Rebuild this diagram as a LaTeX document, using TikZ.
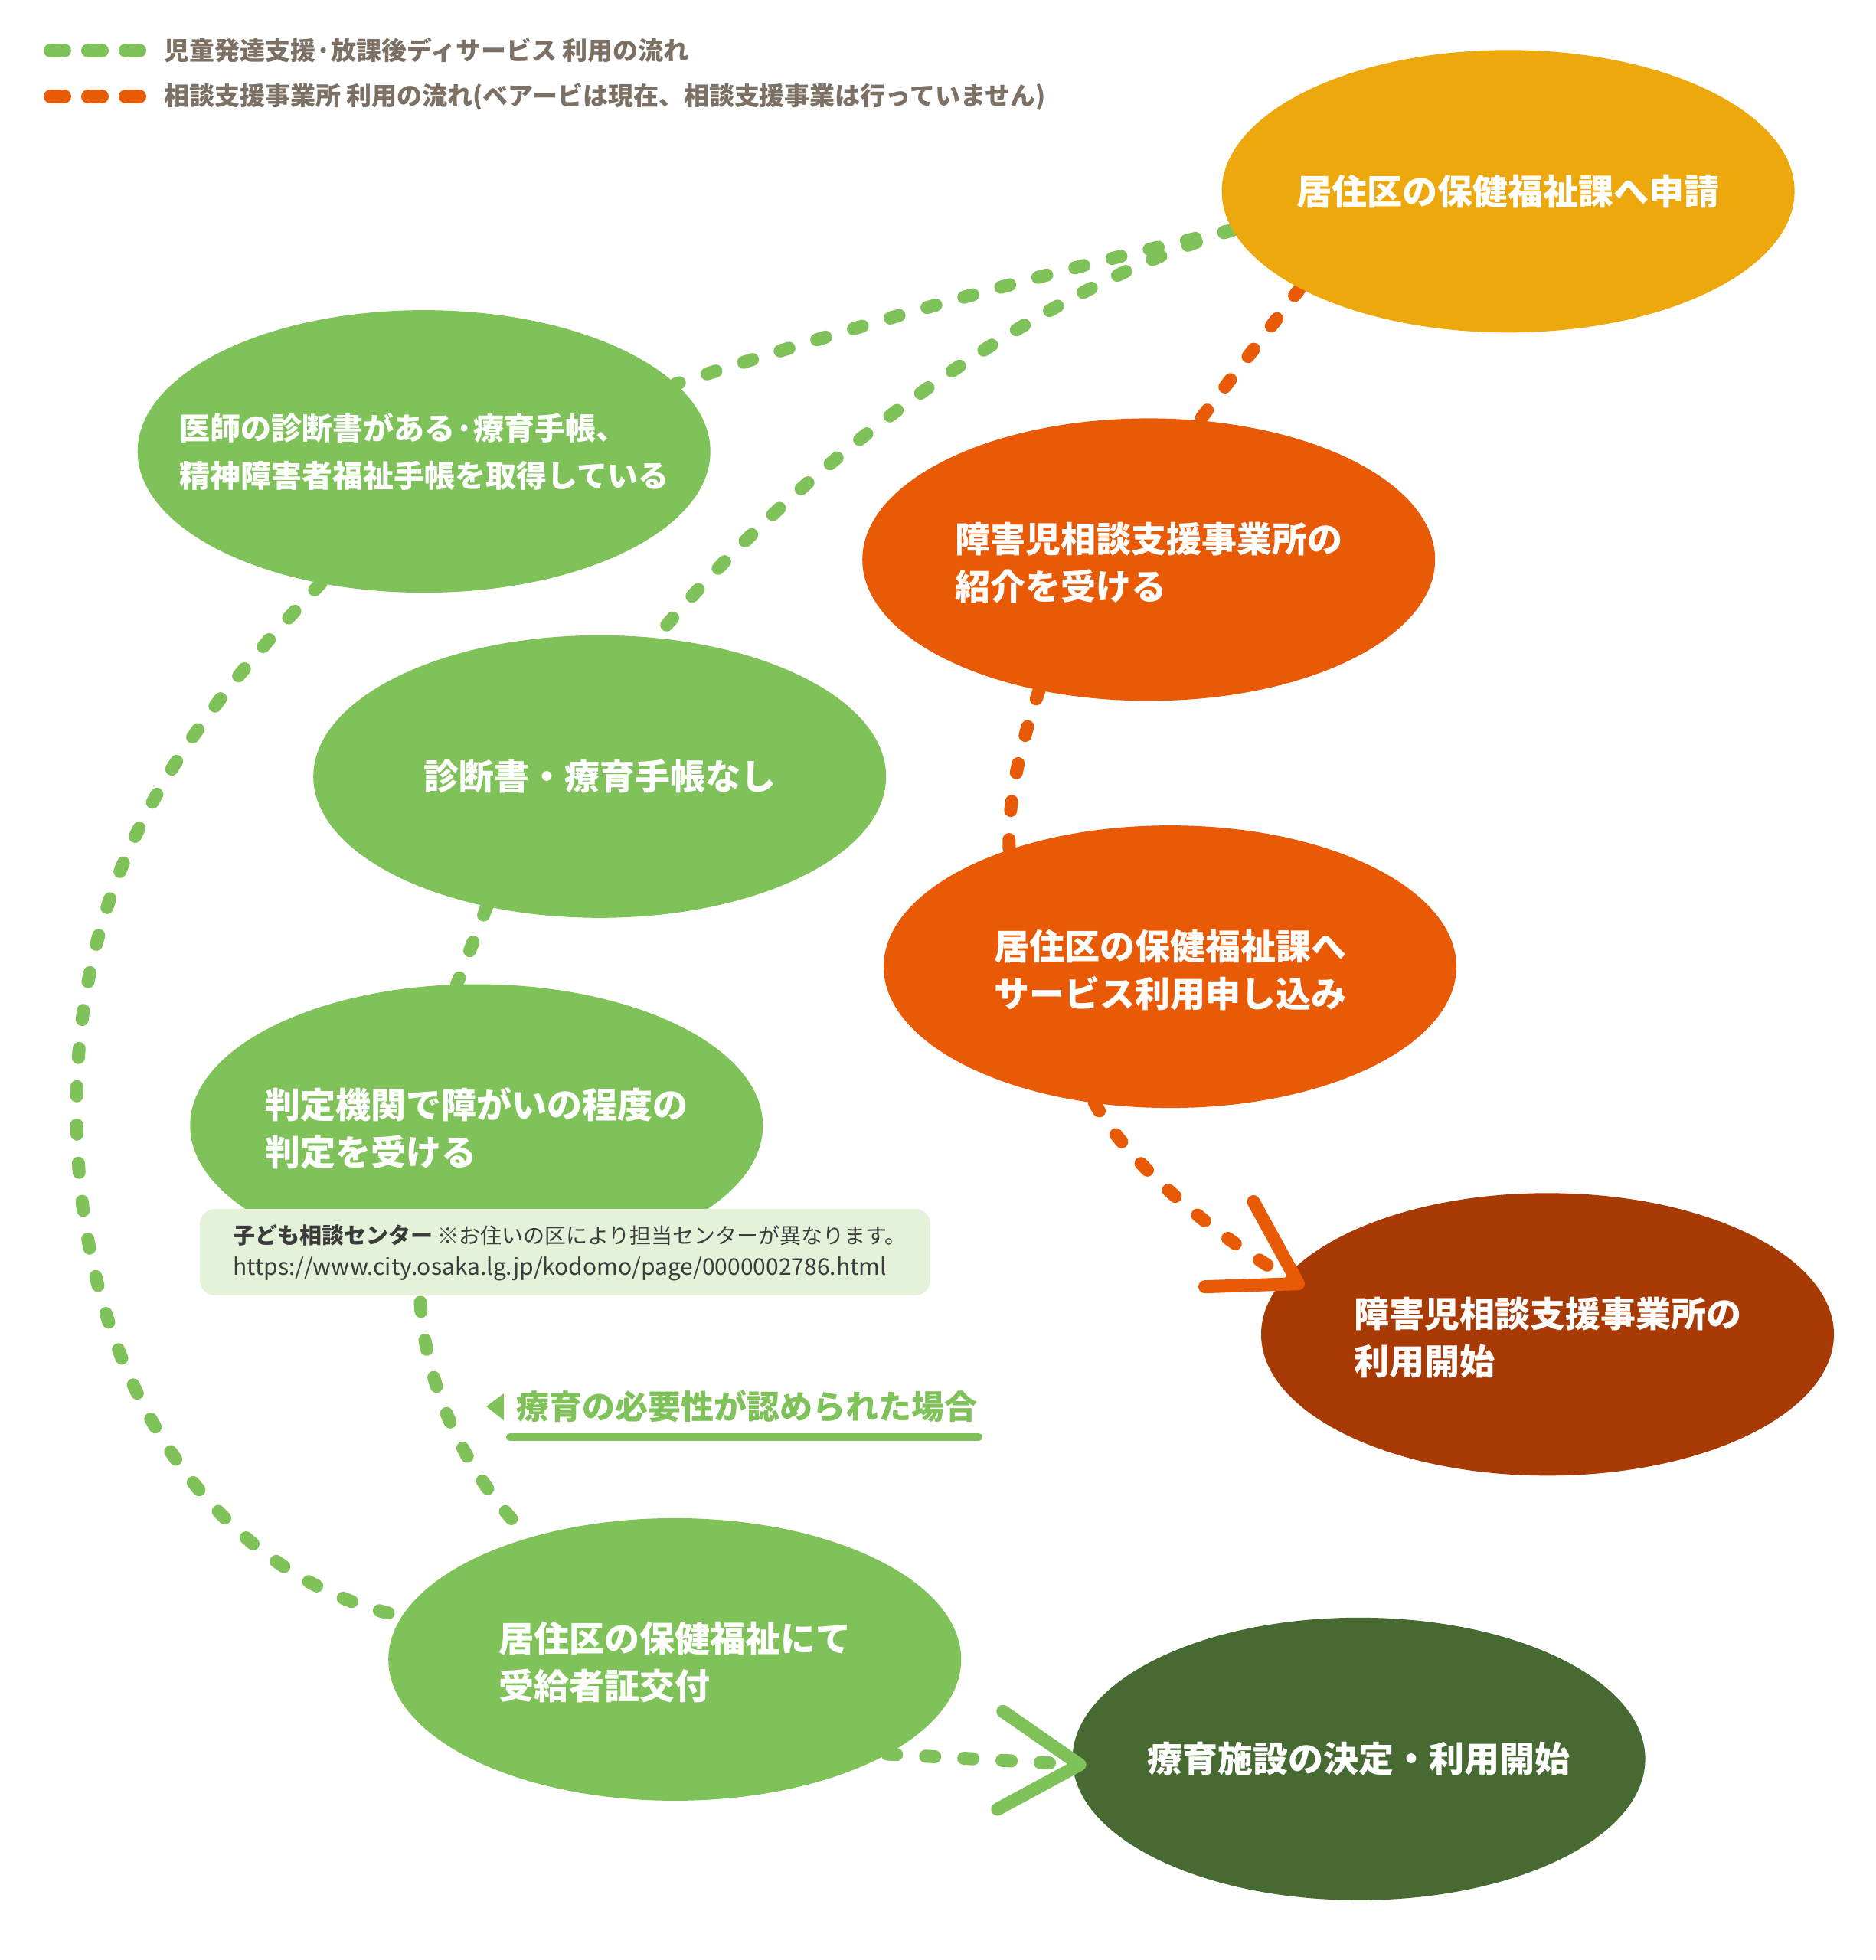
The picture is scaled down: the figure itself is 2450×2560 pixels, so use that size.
\documentclass[tikz,border=0pt]{standalone}
\usepackage{fontspec}
\setmainfont{Noto Sans CJK JP}
\usetikzlibrary{shapes.geometric,arrows.meta,calc}
\pgfdeclarelayer{bg}
\pgfsetlayers{bg,main}
\definecolor{cgold}{RGB}{236,168,12}
\definecolor{cgreen}{RGB}{128,194,90}
\definecolor{corange}{RGB}{232,90,6}
\definecolor{cdorange}{RGB}{168,59,5}
\definecolor{cdgreen}{RGB}{70,106,49}
\definecolor{clegend}{RGB}{125,112,100}
\definecolor{cbox}{RGB}{228,242,218}
\definecolor{cboxtext}{RGB}{60,60,60}
\begin{document}
\begin{tikzpicture}[x=1pt,y=-1pt,
  blob/.style={ellipse, minimum width=748pt, minimum height=369pt, inner sep=0pt, outer sep=0pt},
  ntext/.style={text=white, font=\fontsize{46}{62}\selectfont\bfseries, align=left, inner sep=0pt},
  gline/.style={draw=cgreen, line width=17pt, line cap=round, dash pattern=on 12pt off 38pt},
  oline/.style={draw=corange, line width=17pt, line cap=round, dash pattern=on 12pt off 38pt},
  legdash/.style={line width=18pt, line cap=round, dash pattern=on 18pt off 31pt},
  barb/.style={-{Straight Barb[length=104pt,width=128pt,round]}},
  legtext/.style={anchor=west, text=clegend, font=\fontsize{33}{38}\selectfont\bfseries, inner sep=0pt},
]
\useasboundingbox (0,0) rectangle (2450,2560);

% legend
\coordinate (lg1a) at (66,66);
\coordinate (lg1b) at (182,66);
\coordinate (lg2a) at (66,126);
\coordinate (lg2b) at (182,126);
\draw[legdash, draw=cgreen] (lg1a) -- (lg1b);
\draw[legdash, draw=corange] (lg2a) -- (lg2b);
\node[legtext] (leg1) at (214,66) {児童発達支援·放課後ディサービス 利用の流れ};
\node[legtext] (leg2) at (214,126) {相談支援事業所 利用の流れ(ベアービは現在、相談支援事業は行っていません)};

% ellipses
\node[blob, fill=cgold]    (n1) at (1969.6,249.8) {};
\node[blob, fill=cgreen]   (n2) at (553.7,589.6) {};
\node[blob, fill=corange]  (n3) at (1500.2,730.9) {};
\node[blob, fill=cgreen]   (n4) at (783.2,1014.3) {};
\node[blob, fill=corange]  (n5) at (1528,1262.6) {};
\node[blob, fill=cgreen]   (n6) at (622.3,1470) {};
\node[blob, fill=cdorange] (n7) at (2021,1742.8) {};
\node[blob, fill=cgreen]   (n8) at (881.2,2167.4) {};
\node[blob, fill=cdgreen]  (n9) at (1774.6,2297.3) {};

% texts
\node[ntext] (t1) at (n1) {居住区の保健福祉課へ申請};
\node[ntext, font=\fontsize{40}{62}\selectfont\bfseries] (t2) at (n2) {医師の診断書がある·療育手帳、\\精神障害者福祉手帳を取得している};
\node[ntext] (t3) at ($(n3)+(0,4)$) {障害児相談支援事業所の\\紹介を受ける};
\node[ntext] (t4) at (n4) {診断書・療育手帳なし};
\node[ntext] (t5) at ($(n5)+(0,4)$) {居住区の保健福祉課へ\\サービス利用申し込み};
\node[ntext] (t6) at ($(n6)+(0,4)$) {判定機関で障がいの程度の\\判定を受ける};
\node[ntext] (t7) at ($(n7)+(0,4)$) {障害児相談支援事業所の\\利用開始};
\node[ntext] (t8) at ($(n8)+(0,4)$) {居住区の保健福祉にて\\受給者証交付};
\node[ntext] (t9) at (n9) {療育施設の決定・利用開始};

% connectors behind
\begin{pgfonlayer}{bg}
\fill[white] (0,0) rectangle (2450,2560);
\draw[gline] (n1.188) .. controls (1366,355) and (1124,423) .. (n2.15);
\draw[gline] (n1.188) .. controls (1350,380) and (1050,600) .. (n4.68);
\draw[gline] (n2.232) .. controls (230,960) and (100,1150) .. (100,1450)
                      .. controls (100,1800) and (280,2060) .. (n8.171);
\draw[gline] (n4.229) -- (n6.98);
\draw[gline] (n6.248) .. controls (540,1780) and (600,1920) .. (n8.140);
\draw[oline] (n1.205) -- (n3.70);
\draw[oline] (n3.230) .. controls (1330,980) and (1316,1050) .. (n5.144);
\end{pgfonlayer}

% arrow connectors
\coordinate (tip9) at ($(n9.west)+(18,8)$);
\coordinate (tip7) at ($(n7.center)+(-318,-62)$);
\draw[gline, barb] (n8.336) -- (tip9);
\draw[oline, barb] (n5.241) .. controls (1480,1530) and (1600,1622) .. (tip7);

% info box
\node[rectangle, rounded corners=20pt, fill=cbox, minimum width=954pt, minimum height=113pt, inner sep=0pt] (info) at (738,1635.5) {};
\node[anchor=base west, inner sep=0pt, text=cboxtext] (info1) at (304,1624)
  {{\fontsize{29}{36}\selectfont\bfseries 子ども相談センター}\hspace{6pt}{\fontsize{28}{36}\selectfont ※お住いの区により担当センターが異なります。}};
\node[anchor=base west, inner sep=0pt, text=cboxtext, font=\fontsize{30}{40}\selectfont] (info2) at (304,1665)
  {https://www.city.osaka.lg.jp/kodomo/page/0000002786.html};

% condition label
\node[anchor=west, inner sep=0pt, text=cgreen, font=\fontsize{43}{50}\selectfont\bfseries] (lbl) at (674,1837) {療育の必要性が認められた場合};
\fill[cgreen] ($(lbl.west)+(-39,0)$) -- ($(lbl.west)+(-16,-17)$) -- ($(lbl.west)+(-16,18)$) -- cycle;
\draw[cgreen, line width=10pt, line cap=round] ($(lbl.west)+(-8,40)$) -- ($(lbl.west)+(604,40)$);
\end{tikzpicture}
\end{document}
